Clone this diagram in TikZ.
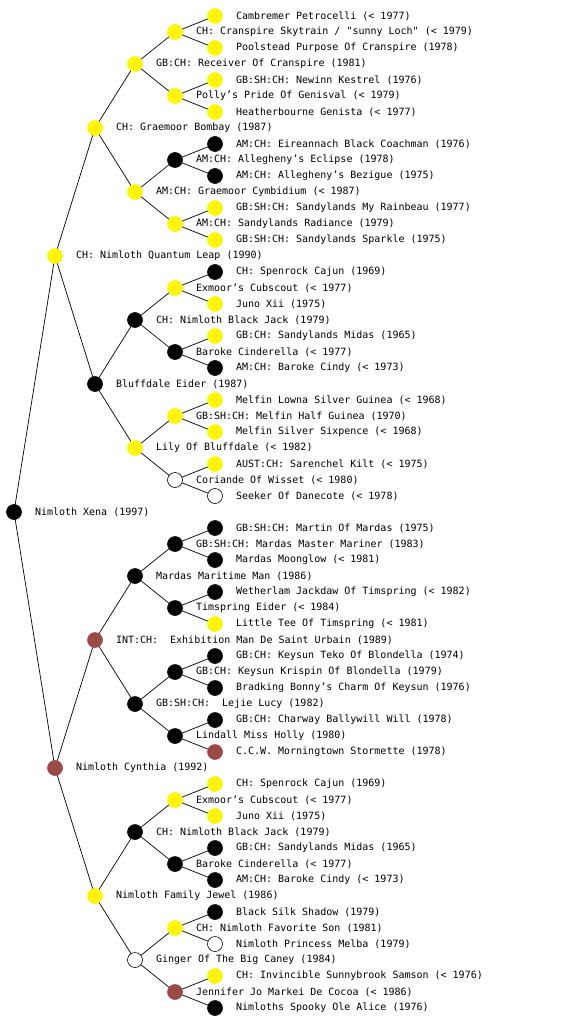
\documentclass[tikz,border=0pt]{standalone}
\usepackage{fontspec}
\newfontfamily\dogfont{DejaVu Sans Mono}
\usetikzlibrary{backgrounds}
\definecolor{dogyellow}{RGB}{255,245,0}
\definecolor{dogbrown}{RGB}{158,74,68}
\tikzset{
  dog/.style={circle, minimum size=15pt, inner sep=0pt, line width=0.6pt},
  yel/.style={dog, draw=dogyellow, fill=dogyellow},
  blk/.style={dog, draw=black, fill=black},
  brn/.style={dog, draw=dogbrown, fill=dogbrown},
  unk/.style={dog, draw=black, fill=white},
  nm/.style={font=\dogfont\fontsize{10}{12}\selectfont, inner sep=0pt, xshift=13pt},
  edge/.style={line width=0.7pt},
}

\begin{document}
\begin{tikzpicture}[x=1pt, y=-1pt]
  \useasboundingbox (0,0) rectangle (560,1024);
  % generation 5 (top half)
  \node[yel, label={[nm]right:Cambremer Petrocelli (< 1977)}] (d1) at (215,16) {};
  \node[yel, label={[nm]right:CH: Cranspire Skytrain / "sunny Loch" (< 1979)}] (d2) at (175,32) {};
  \node[yel, label={[nm]right:Poolstead Purpose Of Cranspire (1978)}] (d3) at (215,48) {};
  \node[yel, label={[nm]right:GB:CH: Receiver Of Cranspire (1981)}] (d4) at (135,64) {};
  \node[yel, label={[nm]right:GB:SH:CH: Newinn Kestrel (1976)}] (d5) at (215,80) {};
  \node[yel, label={[nm]right:Polly’s Pride Of Genisval (< 1979)}] (d6) at (175,96) {};
  \node[yel, label={[nm]right:Heatherbourne Genista (< 1977)}] (d7) at (215,112) {};
  \node[yel, label={[nm]right:CH: Graemoor Bombay (1987)}] (d8) at (95,128) {};
  \node[blk, label={[nm]right:AM:CH: Eireannach Black Coachman (1976)}] (d9) at (215,144) {};
  \node[blk, label={[nm]right:AM:CH: Allegheny’s Eclipse (1978)}] (d10) at (175,160) {};
  \node[blk, label={[nm]right:AM:CH: Allegheny’s Bezigue (1975)}] (d11) at (215,176) {};
  \node[yel, label={[nm]right:AM:CH: Graemoor Cymbidium (< 1987)}] (d12) at (135,192) {};
  \node[yel, label={[nm]right:GB:SH:CH: Sandylands My Rainbeau (1977)}] (d13) at (215,208) {};
  \node[yel, label={[nm]right:AM:CH: Sandylands Radiance (1979)}] (d14) at (175,224) {};
  \node[yel, label={[nm]right:GB:SH:CH: Sandylands Sparkle (1975)}] (d15) at (215,240) {};
  \node[yel, label={[nm]right:CH: Nimloth Quantum Leap (1990)}] (d16) at (55,256) {};
  \node[blk, label={[nm]right:CH: Spenrock Cajun (1969)}] (d17) at (215,272) {};
  \node[yel, label={[nm]right:Exmoor’s Cubscout (< 1977)}] (d18) at (175,288) {};
  \node[yel, label={[nm]right:Juno Xii (1975)}] (d19) at (215,304) {};
  \node[blk, label={[nm]right:CH: Nimloth Black Jack (1979)}] (d20) at (135,320) {};
  \node[yel, label={[nm]right:GB:CH: Sandylands Midas (1965)}] (d21) at (215,336) {};
  \node[blk, label={[nm]right:Baroke Cinderella (< 1977)}] (d22) at (175,352) {};
  \node[blk, label={[nm]right:AM:CH: Baroke Cindy (< 1973)}] (d23) at (215,368) {};
  \node[blk, label={[nm]right:Bluffdale Eider (1987)}] (d24) at (95,384) {};
  \node[yel, label={[nm]right:Melfin Lowna Silver Guinea (< 1968)}] (d25) at (215,400) {};
  \node[yel, label={[nm]right:GB:SH:CH: Melfin Half Guinea (1970)}] (d26) at (175,416) {};
  \node[yel, label={[nm]right:Melfin Silver Sixpence (< 1968)}] (d27) at (215,432) {};
  \node[yel, label={[nm]right:Lily Of Bluffdale (< 1982)}] (d28) at (135,448) {};
  \node[yel, label={[nm]right:AUST:CH: Sarenchel Kilt (< 1975)}] (d29) at (215,464) {};
  \node[unk, label={[nm]right:Coriande Of Wisset (< 1980)}] (d30) at (175,480) {};
  \node[unk, label={[nm]right:Seeker Of Danecote (< 1978)}] (d31) at (215,496) {};
  % the dog herself
  \node[blk, label={[nm]right:Nimloth Xena (1997)}] (d32) at (14,512) {};
  % bottom half
  \node[blk, label={[nm]right:GB:SH:CH: Martin Of Mardas (1975)}] (d33) at (215,528) {};
  \node[blk, label={[nm]right:GB:SH:CH: Mardas Master Mariner (1983)}] (d34) at (175,544) {};
  \node[blk, label={[nm]right:Mardas Moonglow (< 1981)}] (d35) at (215,560) {};
  \node[blk, label={[nm]right:Mardas Maritime Man (1986)}] (d36) at (135,576) {};
  \node[blk, label={[nm]right:Wetherlam Jackdaw Of Timspring (< 1982)}] (d37) at (215,592) {};
  \node[blk, label={[nm]right:Timspring Eider (< 1984)}] (d38) at (175,608) {};
  \node[yel, label={[nm]right:Little Tee Of Timspring (< 1981)}] (d39) at (215,624) {};
  \node[brn, label={[nm]right:INT:CH:\ \ Exhibition Man De Saint Urbain (1989)}] (d40) at (95,640) {};
  \node[blk, label={[nm]right:GB:CH: Keysun Teko Of Blondella (1974)}] (d41) at (215,656) {};
  \node[blk, label={[nm]right:GB:CH: Keysun Krispin Of Blondella (1979)}] (d42) at (175,672) {};
  \node[blk, label={[nm]right:Bradking Bonny’s Charm Of Keysun (1976)}] (d43) at (215,688) {};
  \node[blk, label={[nm]right:GB:SH:CH:\ \ Lejie Lucy (1982)}] (d44) at (135,704) {};
  \node[blk, label={[nm]right:GB:CH: Charway Ballywill Will (1978)}] (d45) at (215,720) {};
  \node[blk, label={[nm]right:Lindall Miss Holly (1980)}] (d46) at (175,736) {};
  \node[brn, label={[nm]right:C.C.W. Morningtown Stormette (1978)}] (d47) at (215,752) {};
  \node[brn, label={[nm]right:Nimloth Cynthia (1992)}] (d48) at (55,768) {};
  \node[yel, label={[nm]right:CH: Spenrock Cajun (1969)}] (d49) at (215,784) {};
  \node[yel, label={[nm]right:Exmoor’s Cubscout (< 1977)}] (d50) at (175,800) {};
  \node[yel, label={[nm]right:Juno Xii (1975)}] (d51) at (215,816) {};
  \node[blk, label={[nm]right:CH: Nimloth Black Jack (1979)}] (d52) at (135,832) {};
  \node[blk, label={[nm]right:GB:CH: Sandylands Midas (1965)}] (d53) at (215,848) {};
  \node[blk, label={[nm]right:Baroke Cinderella (< 1977)}] (d54) at (175,864) {};
  \node[blk, label={[nm]right:AM:CH: Baroke Cindy (< 1973)}] (d55) at (215,880) {};
  \node[yel, label={[nm]right:Nimloth Family Jewel (1986)}] (d56) at (95,896) {};
  \node[blk, label={[nm]right:Black Silk Shadow (1979)}] (d57) at (215,912) {};
  \node[yel, label={[nm]right:CH: Nimloth Favorite Son (1981)}] (d58) at (175,928) {};
  \node[unk, label={[nm]right:Nimloth Princess Melba (1979)}] (d59) at (215,944) {};
  \node[unk, label={[nm]right:Ginger Of The Big Caney (1984)}] (d60) at (135,960) {};
  \node[yel, label={[nm]right:CH: Invincible Sunnybrook Samson (< 1976)}] (d61) at (215,976) {};
  \node[brn, label={[nm]right:Jennifer Jo Markei De Cocoa (< 1986)}] (d62) at (175,992) {};
  \node[blk, label={[nm]right:Nimloths Spooky Ole Alice (1976)}] (d63) at (215,1008) {};
  % sire and dam lines
  \begin{scope}[on background layer]
    \foreach \s in {16,8,4,2,1}{
      \pgfmathtruncatemacro{\n}{16/\s-1}
      \foreach \j in {0,...,\n}{
        \pgfmathtruncatemacro{\p}{2*\s*(2*\j+1)}
        \pgfmathtruncatemacro{\u}{\p-\s}
        \pgfmathtruncatemacro{\v}{\p+\s}
        \draw[edge] (d\p.center) -- (d\u.center) (d\p.center) -- (d\v.center);
      }
    }
  \end{scope}
\end{tikzpicture}
\end{document}
